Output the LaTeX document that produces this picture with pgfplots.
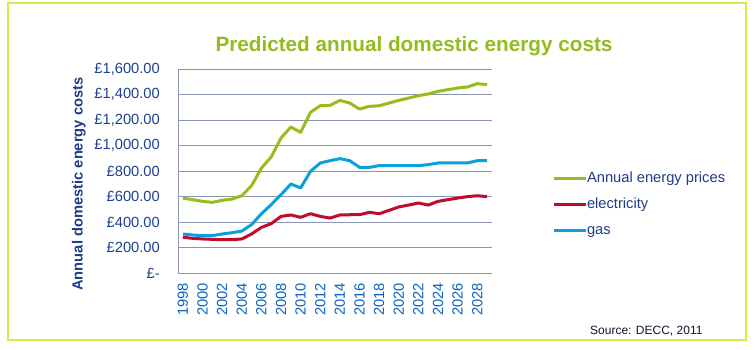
\documentclass[border=0pt]{standalone}
\usepackage{pgfplots}
\pgfplotsset{compat=1.18}
\usepackage{fontspec}
\setmainfont{Liberation Sans}
\definecolor{bordergreen}{HTML}{D2EC4C}
\definecolor{titlegreen}{HTML}{94BC1C}
\definecolor{cgreen}{HTML}{9BBB1A}
\definecolor{cred}{HTML}{C00A2E}
\definecolor{cblue}{HTML}{0AA0DC}
\definecolor{navy}{HTML}{1F3C88}
\definecolor{ticknavy}{HTML}{1E4290}
\definecolor{xtickblue}{HTML}{0A64C0}
\definecolor{axisgray}{HTML}{8A96B2}
\definecolor{srcdark}{HTML}{141432}
\begin{document}
\begin{tikzpicture}
\path[use as bounding box] (0pt,0pt) rectangle (755pt,-349pt);
\fill[white] (0pt,0pt) rectangle (755pt,-349pt);
\draw[bordergreen, line width=1.2pt] (8pt,-3pt) rectangle (746pt,-340pt);
\node[font=\fontsize{20.7}{24}\selectfont\bfseries, text=titlegreen, anchor=base, inner sep=0pt] at (414pt,-51pt) {Predicted annual domestic energy costs};
\node[font=\fontsize{12}{14}\selectfont, text=srcdark, anchor=base west, inner sep=0pt] at (590pt,-334pt) {Source: DECC, 2011};
\begin{axis}[
  at={(178pt,-273pt)}, anchor=south west,
  scale only axis, width=314pt, height=204pt,
  xmin=1997.5, xmax=2029.5, ymin=0, ymax=1600,
  axis x line=bottom, axis y line=left,
  axis line style={axisgray, line width=1pt, -},
  ymajorgrids, grid style={axisgray, line width=1pt},
  major tick length=0pt,
  xtick={1998,2000,...,2028},
  ytick={0,200,...,1600},
  yticklabels={£-\hspace{9pt}, £200.00, £400.00, £600.00, £800.00, £1{,}000.00, £1{,}200.00, £1{,}400.00, £1{,}600.00},
  /pgf/number format/1000 sep={},
  /pgf/number format/assume math mode=true,
  xticklabel style={rotate=90, anchor=east, inner sep=0pt, font=\fontsize{14.7}{16}\selectfont, text=xtickblue},
  yticklabel style={anchor=east, inner sep=0pt, font=\fontsize{14.7}{16}\selectfont, text=ticknavy},
  xticklabel shift=10pt, yticklabel shift=18pt,
  ylabel={Annual domestic energy costs},
  ylabel style={at={(rel axis cs:-0.3155,0.436)}, anchor=center, rotate=0, font=\fontsize{14.7}{16}\selectfont\bfseries, text=navy},
  clip=false,
  legend style={draw=none, fill=none, at={(rel axis cs:1.181,0.51)}, anchor=north west,
    font=\fontsize{14.7}{16}\selectfont, text=navy,
    nodes={inner sep=0pt, text height=11pt, text depth=3pt},
    row sep=12pt},
  legend cell align=left,
  legend image code/.code={\draw[#1, line width=3pt] (0pt,0pt) -- (32pt,0pt);},
  every axis plot/.append style={line width=3pt, line join=round, mark=none},
]
\addplot[cgreen] coordinates {
(1998,588)(1999,575)(2000,562)(2001,554)(2002,570)(2003,580)(2004,606)(2005,685)
(2006,823)(2007,910)(2008,1059)(2009,1145)(2010,1103)(2011,1260)(2012,1312)(2013,1315)
(2014,1354)(2015,1333)(2016,1286)(2017,1307)(2018,1312)(2019,1333)(2020,1354)(2021,1372)
(2022,1391)(2023,1404)(2024,1425)(2025,1438)(2026,1451)(2027,1459)(2028,1485)(2029,1477)};
\addlegendentry{Annual energy prices}
\addplot[cred] coordinates {
(1998,280)(1999,272)(2000,267)(2001,264)(2002,261)(2003,261)(2004,267)(2005,306)
(2006,358)(2007,387)(2008,444)(2009,455)(2010,437)(2011,465)(2012,444)(2013,431)
(2014,455)(2015,457)(2016,457)(2017,476)(2018,465)(2019,491)(2020,518)(2021,533)
(2022,549)(2023,533)(2024,562)(2025,575)(2026,588)(2027,599)(2028,606)(2029,599)};
\addlegendentry{electricity}
\addplot[cblue] coordinates {
(1998,306)(1999,298)(2000,293)(2001,293)(2002,306)(2003,316)(2004,329)(2005,379)
(2006,465)(2007,536)(2008,614)(2009,698)(2010,667)(2011,797)(2012,863)(2013,881)
(2014,897)(2015,881)(2016,829)(2017,829)(2018,842)(2019,842)(2020,842)(2021,842)
(2022,842)(2023,850)(2024,863)(2025,863)(2026,863)(2027,863)(2028,881)(2029,881)};
\addlegendentry{gas}
\end{axis}
\end{tikzpicture}
\end{document}
